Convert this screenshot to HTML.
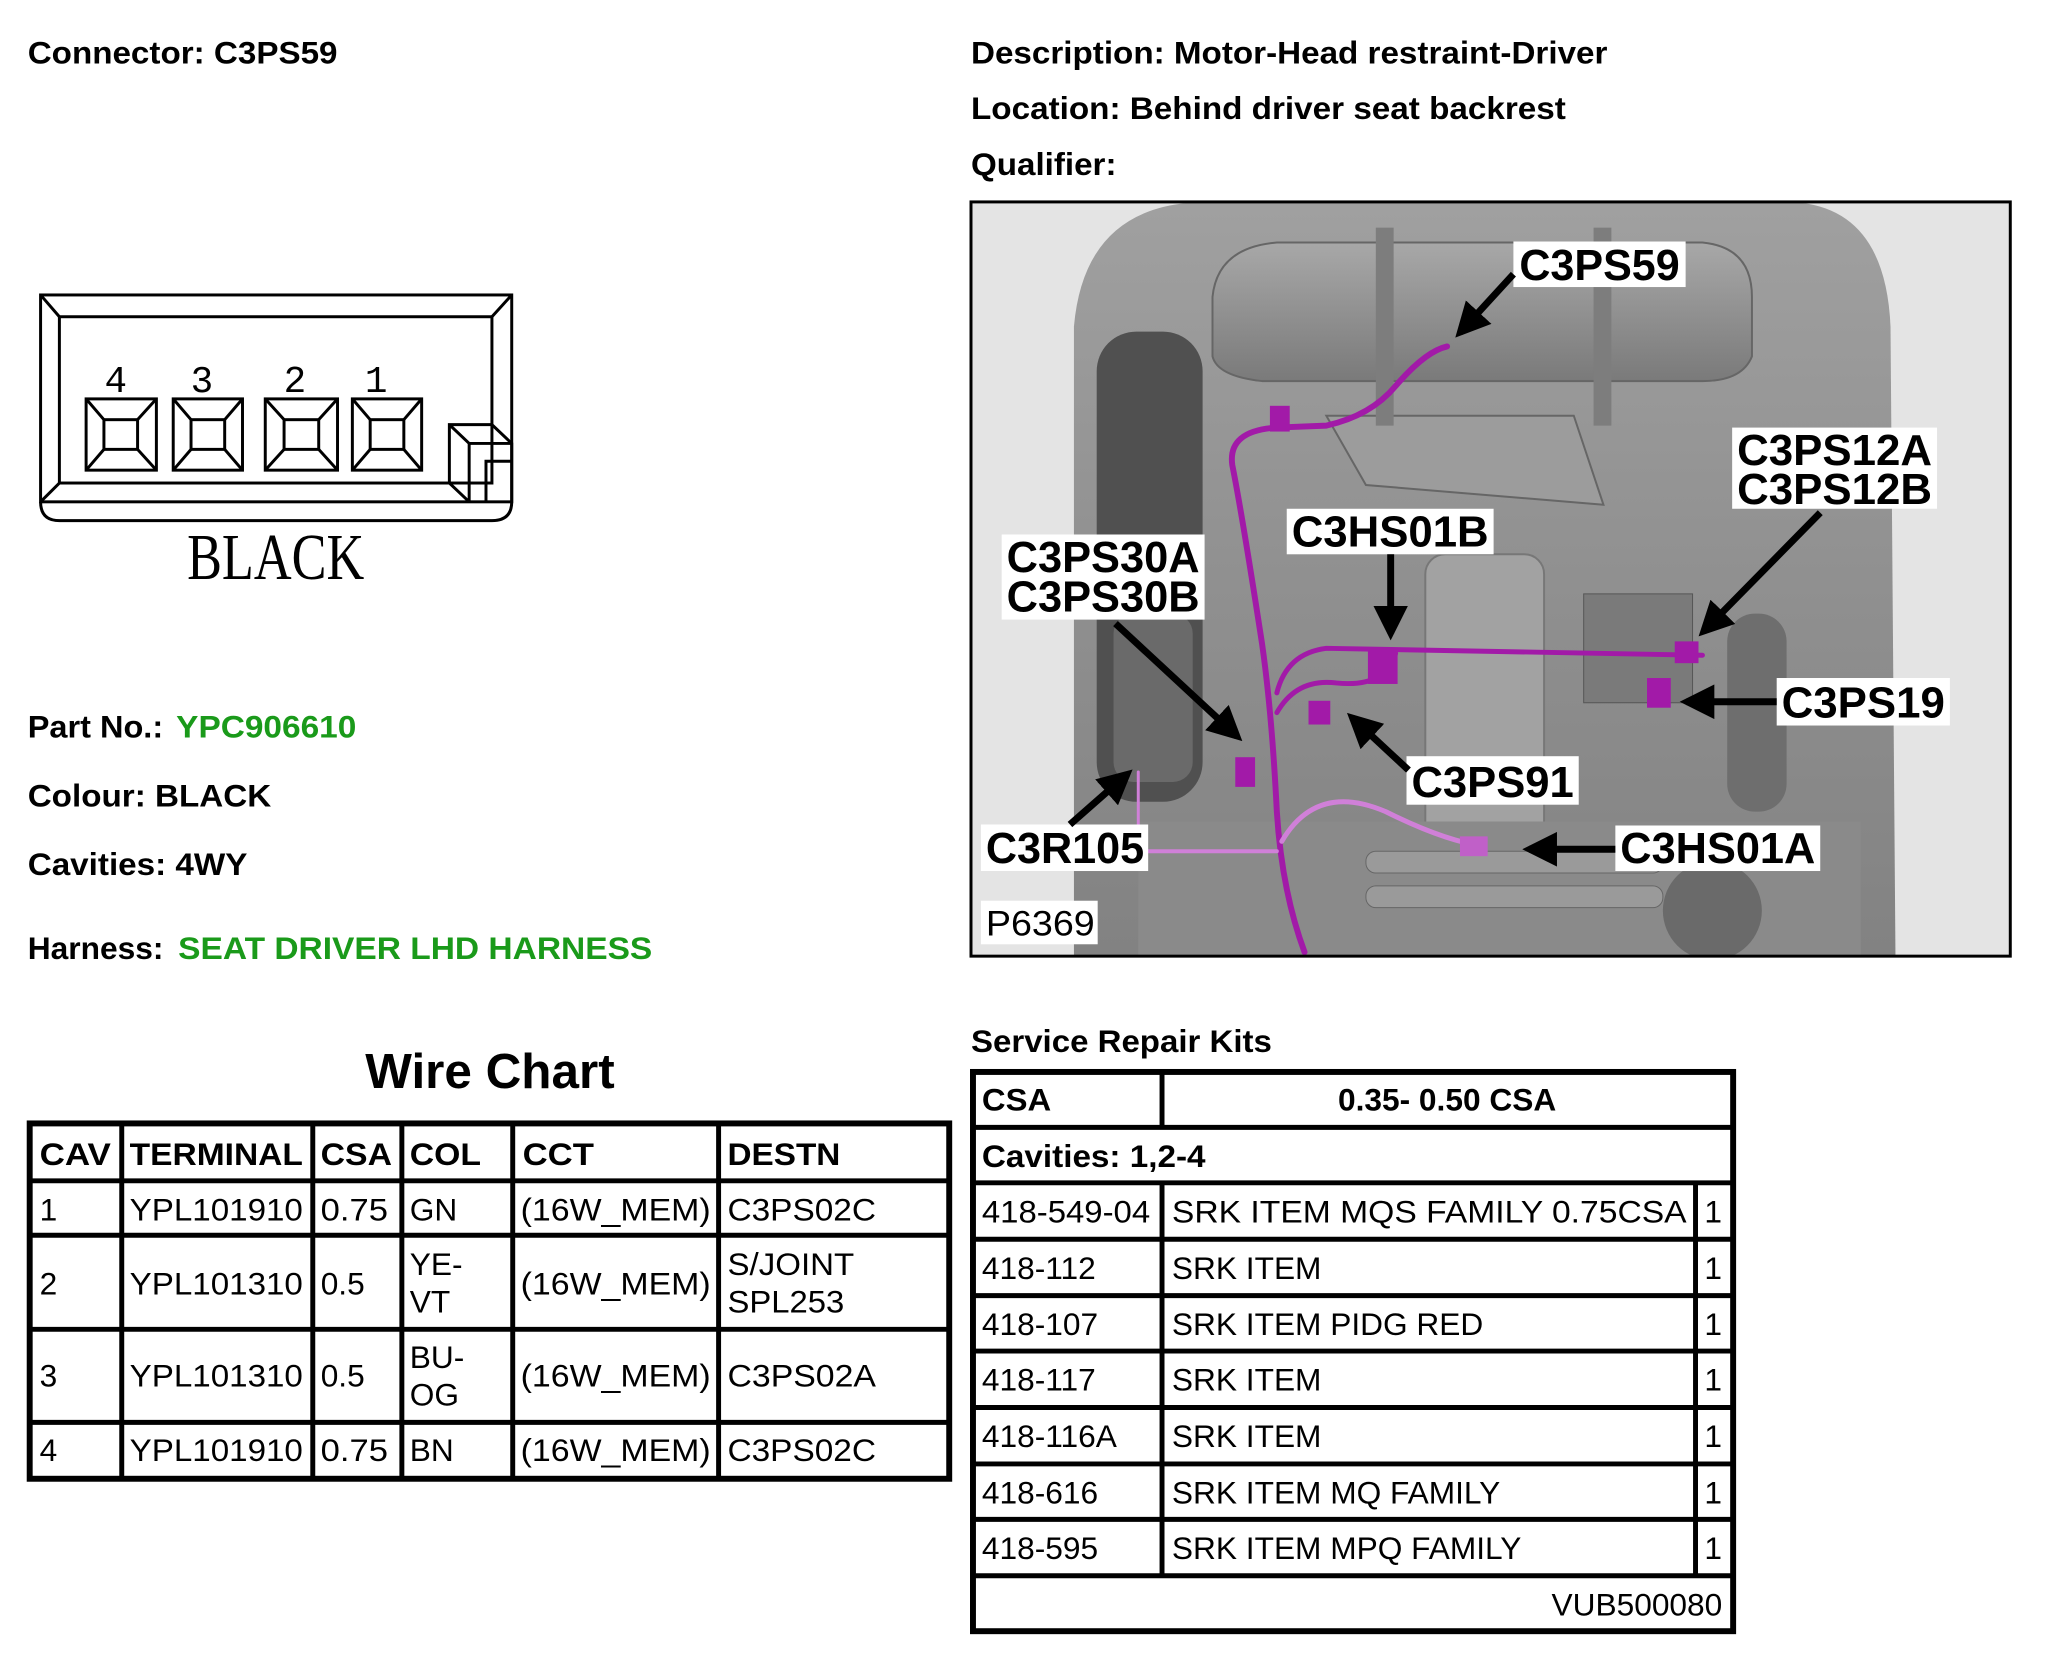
<!DOCTYPE html>
<html><head><meta charset="utf-8"><style>
html,body{margin:0;padding:0;background:#fff}
svg{display:block}
text{font-family:"Liberation Sans",sans-serif}
.b{font-weight:bold}
</style></head><body>
<svg width="2046" height="1666" viewBox="0 0 2046 1666" xmlns="http://www.w3.org/2000/svg">
<defs>
<linearGradient id="seat" x1="0" y1="0" x2="0" y2="1">
<stop offset="0" stop-color="#a0a0a0"/><stop offset="0.5" stop-color="#909090"/><stop offset="1" stop-color="#828282"/>
</linearGradient>
<linearGradient id="hr" x1="0" y1="0" x2="0" y2="1">
<stop offset="0" stop-color="#a8a8a8"/><stop offset="1" stop-color="#7a7a7a"/>
</linearGradient>
<clipPath id="pc"><rect x="981" y="204" width="1050" height="762"/></clipPath>
<marker id="ah" markerWidth="5" markerHeight="5" refX="4" refY="2.5" orient="auto" markerUnits="strokeWidth"><path d="M0 0 L5 2.5 L0 5 Z" fill="#000"/></marker>
</defs>
<g transform="scale(0.9898)">
<!-- Header texts -->
<g class="b" font-size="32" fill="#000">
<text x="28" y="64" textLength="313" lengthAdjust="spacingAndGlyphs">Connector: C3PS59</text>
<text x="981" y="64" textLength="643" lengthAdjust="spacingAndGlyphs">Description: Motor-Head restraint-Driver</text>
<text x="981" y="120" textLength="601" lengthAdjust="spacingAndGlyphs">Location: Behind driver seat backrest</text>
<text x="981" y="177" textLength="147" lengthAdjust="spacingAndGlyphs">Qualifier:</text>
<text x="28" y="745"><tspan textLength="146" lengthAdjust="spacingAndGlyphs">Part No.: </tspan><tspan x="178" fill="#1a9a1a" textLength="182" lengthAdjust="spacingAndGlyphs">YPC906610</tspan></text>
<text x="28" y="815" textLength="246" lengthAdjust="spacingAndGlyphs">Colour: BLACK</text>
<text x="28" y="884" textLength="222" lengthAdjust="spacingAndGlyphs">Cavities: 4WY</text>
<text x="28" y="969"><tspan textLength="146" lengthAdjust="spacingAndGlyphs">Harness: </tspan><tspan x="180" fill="#1a9a1a" textLength="479" lengthAdjust="spacingAndGlyphs">SEAT DRIVER LHD HARNESS</tspan></text>
<text x="981" y="1063" textLength="304" lengthAdjust="spacingAndGlyphs">Service Repair Kits</text>
</g>
<text class="b" x="369" y="1099" font-size="50" textLength="252" lengthAdjust="spacingAndGlyphs">Wire Chart</text>

<!-- Connector drawing -->
<g fill="none" stroke="#000" stroke-width="3">
<rect x="41" y="298" width="476" height="209"/>
<rect x="60" y="320" width="437" height="168"/>
<path d="M41 298 L60 320 M517 298 L497 320 M41 507 L60 488"/>
<path d="M41 507 Q41 526 60 526 L497 526 Q517 526 517 507"/>
<path d="M454 488 L454 429 L497 429 L517 448 L517 507 M454 429 L474 448 L517 448 M474 448 L474 507 M454 488 L474 507 M491 507 L491 466 L517 466"/>
<rect x="87" y="403" width="71" height="72"/><rect x="105" y="424" width="34" height="30"/>
<path d="M87 403 L105 424 M158 403 L139 424 M87 475 L105 454 M158 475 L139 454"/>
<rect x="175" y="403" width="70" height="72"/><rect x="193" y="424" width="34" height="30"/>
<path d="M175 403 L193 424 M245 403 L227 424 M175 475 L193 454 M245 475 L227 454"/>
<rect x="268" y="403" width="73" height="72"/><rect x="287" y="424" width="35" height="30"/>
<path d="M268 403 L287 424 M341 403 L322 424 M268 475 L287 454 M341 475 L322 454"/>
<rect x="356" y="403" width="70" height="72"/><rect x="374" y="424" width="34" height="30"/>
<path d="M356 403 L374 424 M426 403 L408 424 M356 475 L374 454 M426 475 L408 454"/>
</g>
<g font-size="38" text-anchor="middle" style="font-family:'Liberation Mono',monospace">
<text x="117" y="396" style="font-family:'Liberation Mono',monospace">4</text>
<text x="204" y="396" style="font-family:'Liberation Mono',monospace">3</text>
<text x="298" y="396" style="font-family:'Liberation Mono',monospace">2</text>
<text x="380" y="396" style="font-family:'Liberation Mono',monospace">1</text>
</g>
<text x="189" y="585" font-size="66" style="font-family:'Liberation Serif',serif" textLength="179" lengthAdjust="spacingAndGlyphs">BLACK</text>

<!-- Photo -->
<rect x="981" y="204" width="1050" height="762" fill="#e4e4e4"/>
<g clip-path="url(#pc)">
<path d="M1085 966 L1085 330 Q1095 215 1200 205 L1820 205 Q1905 215 1910 330 L1915 966 Z" fill="url(#seat)"/>
<path d="M1225 300 Q1230 250 1290 245 L1720 245 Q1770 250 1770 300 L1770 360 Q1760 385 1720 385 L1275 385 Q1230 380 1225 360 Z" fill="url(#hr)" stroke="#666" stroke-width="2"/>
<path d="M1340 420 L1590 420 L1620 510 L1380 490 Z" fill="#9c9c9c" stroke="#666" stroke-width="2"/>
<rect x="1390" y="230" width="18" height="200" fill="#7d7d7d"/>
<rect x="1610" y="230" width="18" height="200" fill="#7d7d7d"/>
<rect x="1108" y="335" width="107" height="475" rx="40" fill="#505050"/>
<rect x="1125" y="620" width="80" height="170" rx="20" fill="#6a6a6a"/>
<rect x="1745" y="620" width="60" height="200" rx="28" fill="#6e6e6e"/>
<rect x="1440" y="560" width="120" height="300" rx="20" fill="#a2a2a2" stroke="#777" stroke-width="2"/>
<path d="M1150 830 L1880 830 L1880 966 L1150 966 Z" fill="#8a8a8a"/>
<rect x="1380" y="860" width="300" height="22" rx="10" fill="#9a9a9a" stroke="#666"/>
<rect x="1380" y="895" width="300" height="22" rx="10" fill="#9a9a9a" stroke="#666"/>
<circle cx="1730" cy="920" r="50" fill="#6a6a6a"/>
<rect x="1600" y="600" width="110" height="110" fill="#7a7a7a" stroke="#555"/>
</g>
<g fill="none" stroke="#a21aa8" stroke-linecap="round">
<path d="M1318 962 Q1295 900 1290 820 Q1285 720 1275 650 Q1255 520 1245 470 Q1240 435 1290 432 L1340 430 Q1385 420 1410 390 Q1440 355 1462 350" stroke-width="6"/>
<path d="M1290 700 Q1300 660 1340 655 L1720 662" stroke-width="5"/>
<path d="M1290 720 Q1310 685 1350 690 Q1400 695 1410 660" stroke-width="5"/>
<path d="M1295 850 Q1330 790 1400 820 Q1460 850 1500 855" stroke="#d080d8" stroke-width="5"/>
<path d="M1150 860 L1290 860" stroke="#d080d8" stroke-width="4"/>
<path d="M1150 780 L1150 860" stroke="#d080d8" stroke-width="3"/>
</g>
<g fill="#a21aa8">
<rect x="1382" y="655" width="30" height="36"/>
<rect x="1322" y="708" width="22" height="24"/>
<rect x="1664" y="685" width="24" height="30"/>
<rect x="1692" y="648" width="24" height="22"/>
<rect x="1283" y="410" width="20" height="26"/>
<rect x="1248" y="765" width="20" height="30"/>
<rect x="1475" y="845" width="28" height="20" fill="#c060c8"/>
</g>
<rect x="981" y="204" width="1050" height="762" fill="none" stroke="#000" stroke-width="3"/>
<g fill="#fff">
<rect x="1529" y="244" width="174" height="46"/>
<rect x="1750" y="432" width="207" height="82"/>
<rect x="1300" y="514" width="209" height="46"/>
<rect x="1012" y="540" width="205" height="86"/>
<rect x="1795" y="685" width="175" height="48"/>
<rect x="1421" y="764" width="174" height="49"/>
<rect x="991" y="833" width="169" height="47"/>
<rect x="1632" y="834" width="207" height="46"/>
<rect x="991" y="910" width="118" height="44"/>
</g>
<g class="b" font-size="44" fill="#000">
<text x="1535" y="283" textLength="162" lengthAdjust="spacingAndGlyphs">C3PS59</text>
<text x="1755" y="470" textLength="197" lengthAdjust="spacingAndGlyphs">C3PS12A</text>
<text x="1755" y="509" textLength="197" lengthAdjust="spacingAndGlyphs">C3PS12B</text>
<text x="1305" y="552" textLength="199" lengthAdjust="spacingAndGlyphs">C3HS01B</text>
<text x="1017" y="578" textLength="195" lengthAdjust="spacingAndGlyphs">C3PS30A</text>
<text x="1017" y="618" textLength="195" lengthAdjust="spacingAndGlyphs">C3PS30B</text>
<text x="1800" y="725" textLength="165" lengthAdjust="spacingAndGlyphs">C3PS19</text>
<text x="1426" y="805" textLength="164" lengthAdjust="spacingAndGlyphs">C3PS91</text>
<text x="996" y="872" textLength="160" lengthAdjust="spacingAndGlyphs">C3R105</text>
<text x="1637" y="872" textLength="197" lengthAdjust="spacingAndGlyphs">C3HS01A</text>
</g>
<text x="996" y="945" font-size="36" textLength="110" lengthAdjust="spacingAndGlyphs">P6369</text>
<g stroke="#000" stroke-width="7" marker-end="url(#ah)">
<line x1="1529" y1="277" x2="1475" y2="336"/>
<line x1="1839" y1="518" x2="1721" y2="638"/>
<line x1="1405" y1="560" x2="1405" y2="640"/>
<line x1="1127" y1="630" x2="1250" y2="744"/>
<line x1="1795" y1="709" x2="1704" y2="709"/>
<line x1="1423" y1="778" x2="1366" y2="725"/>
<line x1="1081" y1="833" x2="1139" y2="782"/>
<line x1="1632" y1="858" x2="1545" y2="858"/>
</g>

<!-- Wire chart table -->
<g stroke="#000" fill="none">
<rect x="30" y="1135" width="929" height="359" stroke-width="6"/>
<g stroke-width="5">
<line x1="30" y1="1193" x2="959" y2="1193"/>
<line x1="30" y1="1248" x2="959" y2="1248"/>
<line x1="30" y1="1343" x2="959" y2="1343"/>
<line x1="30" y1="1437" x2="959" y2="1437"/>
<line x1="123" y1="1135" x2="123" y2="1494"/>
<line x1="316" y1="1135" x2="316" y2="1494"/>
<line x1="406" y1="1135" x2="406" y2="1494"/>
<line x1="518" y1="1135" x2="518" y2="1494"/>
<line x1="726" y1="1135" x2="726" y2="1494"/>
</g>
</g>
<g class="b" font-size="32">
<text x="40" y="1177" textLength="72" lengthAdjust="spacingAndGlyphs">CAV</text>
<text x="131" y="1177" textLength="175" lengthAdjust="spacingAndGlyphs">TERMINAL</text>
<text x="324" y="1177" textLength="72" lengthAdjust="spacingAndGlyphs">CSA</text>
<text x="414" y="1177" textLength="72" lengthAdjust="spacingAndGlyphs">COL</text>
<text x="528" y="1177" textLength="72" lengthAdjust="spacingAndGlyphs">CCT</text>
<text x="735" y="1177" textLength="114" lengthAdjust="spacingAndGlyphs">DESTN</text>
</g>
<g font-size="32">
<text x="40" y="1233">1</text><text x="131" y="1233" textLength="175" lengthAdjust="spacingAndGlyphs">YPL101910</text><text x="324" y="1233" textLength="68" lengthAdjust="spacingAndGlyphs">0.75</text><text x="414" y="1233">GN</text><text x="526" y="1233" textLength="192" lengthAdjust="spacingAndGlyphs">(16W_MEM)</text><text x="735" y="1233" textLength="150" lengthAdjust="spacingAndGlyphs">C3PS02C</text>
<text x="40" y="1308">2</text><text x="131" y="1308" textLength="175" lengthAdjust="spacingAndGlyphs">YPL101310</text><text x="324" y="1308">0.5</text><text x="414" y="1288">YE-</text><text x="414" y="1326">VT</text><text x="526" y="1308" textLength="192" lengthAdjust="spacingAndGlyphs">(16W_MEM)</text><text x="735" y="1288" textLength="128" lengthAdjust="spacingAndGlyphs">S/JOINT</text><text x="735" y="1326" textLength="118" lengthAdjust="spacingAndGlyphs">SPL253</text>
<text x="40" y="1401">3</text><text x="131" y="1401" textLength="175" lengthAdjust="spacingAndGlyphs">YPL101310</text><text x="324" y="1401">0.5</text><text x="414" y="1382">BU-</text><text x="414" y="1420">OG</text><text x="526" y="1401" textLength="192" lengthAdjust="spacingAndGlyphs">(16W_MEM)</text><text x="735" y="1401" textLength="150" lengthAdjust="spacingAndGlyphs">C3PS02A</text>
<text x="40" y="1476">4</text><text x="131" y="1476" textLength="175" lengthAdjust="spacingAndGlyphs">YPL101910</text><text x="324" y="1476" textLength="68" lengthAdjust="spacingAndGlyphs">0.75</text><text x="414" y="1476">BN</text><text x="526" y="1476" textLength="192" lengthAdjust="spacingAndGlyphs">(16W_MEM)</text><text x="735" y="1476" textLength="150" lengthAdjust="spacingAndGlyphs">C3PS02C</text>
</g>

<!-- Service repair kits table -->
<g stroke="#000" fill="none">
<rect x="983" y="1083" width="768" height="565" stroke-width="6"/>
<g stroke-width="5">
<line x1="983" y1="1139" x2="1751" y2="1139"/>
<line x1="983" y1="1195" x2="1751" y2="1195"/>
<line x1="983" y1="1252" x2="1751" y2="1252"/>
<line x1="983" y1="1309" x2="1751" y2="1309"/>
<line x1="983" y1="1365" x2="1751" y2="1365"/>
<line x1="983" y1="1422" x2="1751" y2="1422"/>
<line x1="983" y1="1479" x2="1751" y2="1479"/>
<line x1="983" y1="1535" x2="1751" y2="1535"/>
<line x1="983" y1="1592" x2="1751" y2="1592"/>
<line x1="1174" y1="1083" x2="1174" y2="1139"/>
<line x1="1174" y1="1195" x2="1174" y2="1592"/>
<line x1="1713" y1="1195" x2="1713" y2="1592"/>
</g>
</g>
<g class="b" font-size="32">
<text x="992" y="1122" textLength="70" lengthAdjust="spacingAndGlyphs">CSA</text>
<text x="1462" y="1122" text-anchor="middle">0.35- 0.50 CSA</text>
<text x="992" y="1179" textLength="226" lengthAdjust="spacingAndGlyphs">Cavities: 1,2-4</text>
</g>
<g font-size="32">
<text x="992" y="1235" textLength="170" lengthAdjust="spacingAndGlyphs">418-549-04</text><text x="1184" y="1235" textLength="520" lengthAdjust="spacingAndGlyphs">SRK ITEM MQS FAMILY 0.75CSA</text><text x="1722" y="1235">1</text>
<text x="992" y="1292">418-112</text><text x="1184" y="1292">SRK ITEM</text><text x="1722" y="1292">1</text>
<text x="992" y="1349">418-107</text><text x="1184" y="1349">SRK ITEM PIDG RED</text><text x="1722" y="1349">1</text>
<text x="992" y="1405">418-117</text><text x="1184" y="1405">SRK ITEM</text><text x="1722" y="1405">1</text>
<text x="992" y="1462">418-116A</text><text x="1184" y="1462">SRK ITEM</text><text x="1722" y="1462">1</text>
<text x="992" y="1519">418-616</text><text x="1184" y="1519">SRK ITEM MQ FAMILY</text><text x="1722" y="1519">1</text>
<text x="992" y="1575">418-595</text><text x="1184" y="1575">SRK ITEM MPQ FAMILY</text><text x="1722" y="1575">1</text>
<text x="1740" y="1632" text-anchor="end">VUB500080</text>
</g>
</g>
</svg>
</body></html>
